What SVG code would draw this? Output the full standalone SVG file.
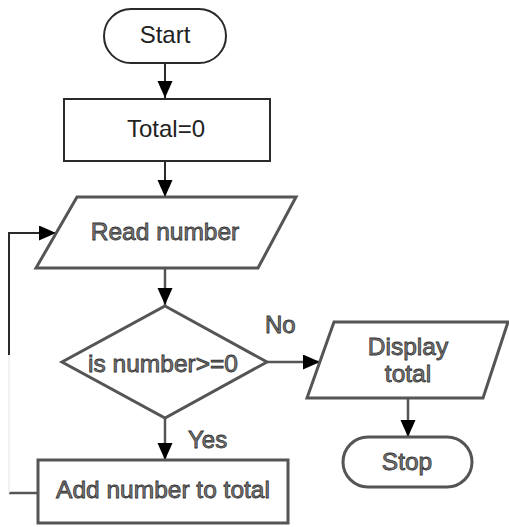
<svg xmlns="http://www.w3.org/2000/svg" width="509" height="527" viewBox="0 0 509 527">
  <style>
    .shape { fill: #ffffff; stroke: #2a2a2a; stroke-width: 2; }
    .shape2 { fill: #ffffff; stroke: #555555; stroke-width: 3; stroke-linejoin: miter; }
    .line { fill: none; stroke: #2a2a2a; stroke-width: 2; }
    .line2 { fill: none; stroke: #555555; stroke-width: 2.5; }
    .faint { fill: none; stroke: #ececec; stroke-width: 1.5; }
    .t { font-family: "Liberation Sans", Arial, sans-serif; font-size: 24px; text-anchor: middle; fill: #222222; }
    .t2 { font-family: "Liberation Sans", Arial, sans-serif; font-size: 24.5px; text-anchor: middle; fill: #7a7a7a; stroke: #333333; stroke-width: 0.8; }
    .lbl { font-family: "Liberation Sans", Arial, sans-serif; font-size: 24px; fill: #7a7a7a; stroke: #333333; stroke-width: 0.8; }
  </style>
  <defs>
    <marker id="arrow" markerUnits="userSpaceOnUse" markerWidth="18" markerHeight="16" refX="17" refY="7.5" orient="auto">
      <path d="M0,0 L17,7.5 L0,15 z" fill="#000000"/>
    </marker>
  </defs>
  <rect width="509" height="527" fill="#ffffff"/>

  <g id="connectors">
    <path class="line" d="M165,63 V98" marker-end="url(#arrow)"/>
    <path class="line" d="M165,161 V197" marker-end="url(#arrow)"/>
    <path class="line2" d="M165,268 V305" marker-end="url(#arrow)"/>
    <path class="line2" d="M267,362 H320" marker-end="url(#arrow)"/>
    <path class="line2" d="M165,418 V460" marker-end="url(#arrow)"/>
    <path class="line2" d="M408,398 V437" marker-end="url(#arrow)"/>
    <!-- loop back from "Add number to total" to "Read number" -->
    <path class="line2" d="M38,493 H9"/>
    <path class="faint" d="M9,493 V355"/>
    <path class="line" d="M9,355 V233 H56" marker-end="url(#arrow)"/>
  </g>

  <g id="start">
    <rect class="shape" x="104" y="9" width="122" height="54" rx="27"/>
    <text class="t" x="165" y="43">Start</text>
  </g>

  <g id="total-init">
    <rect class="shape" x="64" y="99" width="206" height="62"/>
    <text class="t" x="166" y="137">Total=0</text>
  </g>

  <g id="read-number">
    <polygon class="shape2" points="77,197 296,197 258,268 36,268"/>
    <text class="t2" x="165" y="240">Read number</text>
  </g>

  <g id="decision">
    <polygon class="shape2" points="165,306 267,362 165,418 62,362"/>
    <text class="t2" x="163" y="372">is number&gt;=0</text>
  </g>

  <g id="display-total">
    <polygon class="shape2" points="334,322 508,322 483,398 307,398"/>
    <text class="t2" x="408" y="355">Display</text>
    <text class="t2" x="408" y="382">total</text>
  </g>

  <g id="stop">
    <rect class="shape2" x="343" y="437" width="129" height="50" rx="25"/>
    <text class="t2" x="407" y="470">Stop</text>
  </g>

  <g id="add-number">
    <rect class="shape2" x="38" y="460" width="250" height="63"/>
    <text class="t2" x="163" y="498">Add number to total</text>
  </g>

  <g id="labels">
    <text class="lbl" x="265" y="333">No</text>
    <text class="lbl" x="188" y="448">Yes</text>
  </g>
</svg>
